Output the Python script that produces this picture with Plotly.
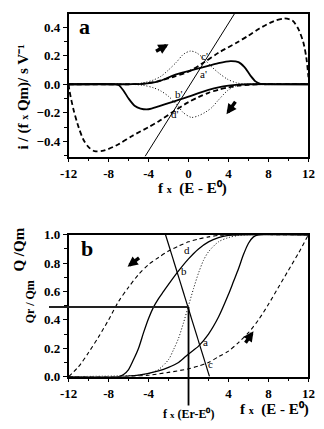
import plotly.graph_objects as go

# ---------------- Panel a data: i/(f x Qm) vs f x (E - E0) ----------------
sol_fwd_x = [-12, -6, -4.6, -3, -1.5, 0, 1.4, 3, 4.2, 5, 5.6, 6.2, 6.7, 7.2, 7.6, 12]
sol_fwd_y = [0, 0, 0.002, 0.02, 0.062, 0.092, 0.118, 0.148, 0.162, 0.155, 0.12, 0.06, 0.02, 0.003, 0, 0]
sol_rev_x = [-12, -7.4, -7.0, -6.5, -6.0, -5.4, -4.8, -4.0, -3.0, -2.0, -1.0, 0, 1, 2, 3, 4, 5, 6, 12]
sol_rev_y = [0, 0, -0.005, -0.045, -0.1, -0.15, -0.17, -0.175, -0.155, -0.132, -0.11, -0.087, -0.062, -0.04, -0.022, -0.01, -0.003, 0, 0]

dash_fwd_x = [-12, -6, -4.5, -3, -1.5, 0, 1.6, 3, 4.85, 6, 7.1, 8.5, 9.6, 10.4, 11.0, 11.5, 11.8, 12]
dash_fwd_y = [0, 0, 0.004, 0.022, 0.052, 0.088, 0.155, 0.22, 0.292, 0.34, 0.39, 0.44, 0.46, 0.445, 0.385, 0.29, 0.18, 0.05]
dash_rev_x = [-12, -11.9, -11.5, -11.0, -10.5, -10.0, -9.4, -8.5, -7.0, -5.6, -4.0, -3.0, -1.5, 0, 1, 2, 3, 4, 5, 6, 7, 12]
dash_rev_y = [0, -0.05, -0.18, -0.3, -0.39, -0.44, -0.468, -0.465, -0.42, -0.36, -0.3, -0.26, -0.19, -0.125, -0.09, -0.06, -0.038, -0.022, -0.01, -0.004, 0, 0]

dot_fwd_x = [-12, -6, -4.5, -3.5, -2.75, -2, -1.2, -0.5, 0.2, 0.8, 1.5, 2.3, 3.0, 3.9, 4.8, 5.8, 12]
dot_fwd_y = [0, 0, 0.01, 0.03, 0.056, 0.1, 0.155, 0.21, 0.232, 0.22, 0.18, 0.123, 0.08, 0.035, 0.01, 0, 0]
dot_rev_x = [-12, -6, -4.5, -3.5, -2.75, -2, -1.2, -0.5, 0.3, 1.0, 1.7, 2.3, 3.0, 3.9, 4.8, 5.8, 12]
dot_rev_y = [0, 0, -0.008, -0.025, -0.048, -0.085, -0.14, -0.2, -0.232, -0.22, -0.195, -0.165, -0.11, -0.045, -0.01, 0, 0]

line_a_x = [-4.35, 4.6]
line_a_y = [-0.505, 0.493]

# ---------------- Panel b data: Q/Qm vs f x (E - E0) ----------------
b_dash_left_x = [-12, -11, -10, -9, -8, -7, -6, -5, -4, -3, -2, -1, 0, 1, 2, 3, 4, 12]
b_dash_left_y = [0, 0.07, 0.17, 0.28, 0.4, 0.53, 0.63, 0.72, 0.79, 0.84, 0.885, 0.92, 0.95, 0.97, 0.985, 0.995, 1.0, 1.0]
b_sol_left_x = [-12, -7, -6.5, -6, -5.5, -5, -4.5, -4, -3.5, -3, -2.5, -2, -1, 0, 1, 2, 3, 4, 5, 12]
b_sol_left_y = [0, 0, 0.015, 0.05, 0.12, 0.2, 0.31, 0.41, 0.49, 0.55, 0.6, 0.65, 0.745, 0.83, 0.9, 0.95, 0.98, 0.995, 1.0, 1.0]
b_dot_x = [-12, -5, -4, -3, -2, -1.5, -1, -0.5, 0, 0.5, 1, 1.5, 2, 3, 4, 5, 6, 12]
b_dot_y = [0, 0.01, 0.02, 0.05, 0.12, 0.19, 0.27, 0.38, 0.5, 0.62, 0.73, 0.82, 0.88, 0.95, 0.98, 0.995, 1.0, 1.0]
b_sol_right_x = [-12, -7, -5, -3, -2, -1, 0, 1, 2, 3, 4, 4.5, 5, 5.5, 6, 6.5, 7, 12]
b_sol_right_y = [0, 0, 0.01, 0.04, 0.065, 0.1, 0.16, 0.215, 0.3, 0.42, 0.58, 0.67, 0.76, 0.86, 0.94, 0.985, 1.0, 1.0]
b_dash_right_x = [-12, -6, -4, -2, 0, 1, 2, 3, 4, 5, 6, 7, 8, 9, 10, 11, 12]
b_dash_right_y = [0, 0, 0.01, 0.03, 0.055, 0.075, 0.1, 0.14, 0.18, 0.24, 0.31, 0.4, 0.51, 0.63, 0.75, 0.87, 1.0]

line_b_x = [-2.3, 2.1]
line_b_y = [1.0, 0.0]

Er = 0.0
Qr = 0.49

xticks = [-12, -8, -4, 0, 4, 8, 12]
xticktext_a = ['-12', '-8', '-4', '0', '4', '8', '12']
xticktext_b = ['-12', '-8', '-4', '', '4', '8', '12']
yticks_a = [-0.4, -0.2, 0.0, 0.2, 0.4]
yticks_b = [0.0, 0.2, 0.4, 0.6, 0.8, 1.0]

FONT = "Liberation Serif"
fig = go.Figure()

def add(x, y, xa, ya, width, dash, spline=True):
    fig.add_trace(go.Scatter(x=x, y=y, xaxis=xa, yaxis=ya, mode='lines',
                             line=dict(color='black', width=width, dash=dash,
                                       shape='spline' if spline else 'linear', smoothing=0.8),
                             showlegend=False, hoverinfo='skip'))

# panel a
add(dot_fwd_x, dot_fwd_y, 'x', 'y', 1, '1px,2px')
add(dot_rev_x, dot_rev_y, 'x', 'y', 1, '1px,2px')
add(dash_fwd_x, dash_fwd_y, 'x', 'y', 1.8, '5px,3px')
add(dash_rev_x, dash_rev_y, 'x', 'y', 1.8, '5px,3px')
add(sol_fwd_x, sol_fwd_y, 'x', 'y', 1.8, 'solid')
add(sol_rev_x, sol_rev_y, 'x', 'y', 1.8, 'solid')
add(line_a_x, line_a_y, 'x', 'y', 1, 'solid', spline=False)

# panel b
add(b_dash_left_x, b_dash_left_y, 'x2', 'y2', 1.1, '4px,3px')
add(b_dash_right_x, b_dash_right_y, 'x2', 'y2', 1.1, '4px,3px')
add(b_dot_x, b_dot_y, 'x2', 'y2', 1, '1px,2px')
add(b_sol_left_x, b_sol_left_y, 'x2', 'y2', 1.3, 'solid')
add(b_sol_right_x, b_sol_right_y, 'x2', 'y2', 1.3, 'solid')
add(line_b_x, line_b_y, 'x2', 'y2', 1.2, 'solid', spline=False)

tickfont = dict(family=FONT, size=13, color='black', weight='bold')
common_x = dict(range=[-12, 12], showline=True, linecolor='black', linewidth=1.5, mirror=True,
                ticks='outside', ticklen=4, tickwidth=1.2, tickcolor='black', tickvals=xticks,
                minor=dict(dtick=2, tick0=0, ticks='outside', ticklen=3, tickcolor='black', tickwidth=1),
                showgrid=False, zeroline=False, tickfont=tickfont)
common_y = dict(showline=True, linecolor='black', linewidth=1.5, mirror=True,
                ticks='outside', ticklen=4, tickwidth=1.2, tickcolor='black',
                showgrid=False, zeroline=False, tickfont=tickfont, tickformat='.1f')

fig.update_layout(
    width=324, height=429, margin=dict(l=0, r=0, t=0, b=0),
    paper_bgcolor='white', plot_bgcolor='white',
    font=dict(family=FONT, color='black'),
    xaxis=dict(domain=[0.1935, 0.9722], anchor='y', ticktext=xticktext_a, **common_x),
    yaxis=dict(domain=[0.6387, 0.9837], anchor='x', range=[-0.506, 0.493], tickvals=yticks_a,
               minor=dict(dtick=0.1, tick0=0, ticks='outside', ticklen=3, tickcolor='black'), **common_y),
    xaxis2=dict(domain=[0.1935, 0.9722], anchor='y2', ticktext=xticktext_b, **common_x),
    yaxis2=dict(domain=[0.1072, 0.4499], anchor='x2', range=[0, 1.0], tickvals=yticks_b,
                minor=dict(dtick=0.1, tick0=0, ticks='outside', ticklen=3, tickcolor='black'), **common_y),
)

ann = []
def txt(x, y, text, size, xref='x', yref='y', bold=False, angle=0, xanchor='center', yanchor='middle'):
    ann.append(dict(x=x, y=y, xref=xref, yref=yref, text=('<b>%s</b>' % text) if bold else text,
                    showarrow=False, textangle=angle, xanchor=xanchor, yanchor=yanchor,
                    font=dict(family=FONT, size=size, color='black')))

def arrow(x, y, ax, ay, xref, yref):
    ann.append(dict(x=x, y=y, xref=xref, yref=yref, ax=ax, ay=ay, text='', showarrow=True,
                    arrowhead=2, arrowsize=0.6, arrowwidth=3.4, arrowcolor='black', standoff=0))

# panel letters
txt(-11.2, 0.405, 'a', 22, bold=True, xanchor='left')
txt(-11.0, 0.905, 'b', 22, 'x2', 'y2', bold=True, xanchor='left')

# point labels
txt(1.6, 0.2, "c'", 11); txt(1.45, 0.07, "a'", 11)
txt(-1.0, -0.066, "b'", 11); txt(-1.4, -0.21, "d'", 11)
txt(-0.2, 0.89, 'd', 11, 'x2', 'y2'); txt(-0.45, 0.745, 'b', 11, 'x2', 'y2')
txt(1.65, 0.245, 'a', 11, 'x2', 'y2'); txt(2.15, 0.09, 'c', 11, 'x2', 'y2')

# direction arrows
arrow(-2.0, 0.28, -14, 8, 'x', 'y')
arrow(3.8, -0.21, 10, -14, 'x', 'y')
arrow(-6.1, 0.775, 13, -10, 'x2', 'y2')
arrow(6.5, 0.32, -9, 13, 'x2', 'y2')

# Er / Qr construction lines
ann.append(dict(x=Er, y=Qr, xref='x2', yref='y2', ax=-141, ay=0, text='', showarrow=True,
                arrowhead=0, arrowwidth=2, arrowcolor='#222', standoff=0))
ann.append(dict(x=Er, y=Qr, xref='x2', yref='y2', ax=0, ay=107, showarrow=True,
                text="<b>f <span style='font-size:9px'>x</span> (Er-E⁰)</b>",
                arrowhead=0, arrowwidth=1.8, arrowcolor='black', standoff=0,
                font=dict(family=FONT, size=12, color='black')))

# axis titles
xt = "<b>f <span style='font-size:10px'>x</span>  (E - E⁰)</b>"
txt(0.597, 0.5618, xt, 15, 'paper', 'paper')
txt(0.861, 0.002, xt, 15, 'paper', 'paper', yanchor='bottom')
txt(0.046, 0.782, "<b>i / (f <span style='font-size:10px'>x</span> Qm)/ s V⁻¹</b>", 15, 'paper', 'paper', angle=-90)
txt(0.031, 0.413, "<b>Q /Qm</b>", 15, 'paper', 'paper', angle=-90)
txt(0.068, 0.289, "<b>Qr / Qm</b>", 12, 'paper', 'paper', angle=-90)

fig.update_layout(annotations=ann)
fig.write_html("out.html")
